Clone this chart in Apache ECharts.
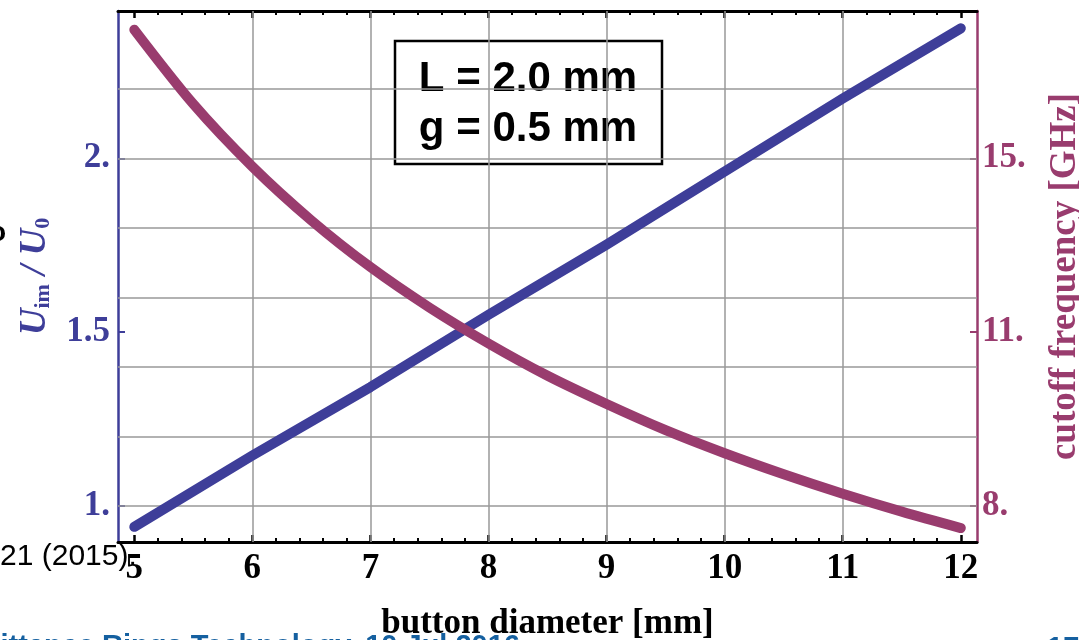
<!DOCTYPE html>
<html>
<head>
<meta charset="utf-8">
<script src="https://cdn.jsdelivr.net/npm/echarts@6/dist/echarts.min.js"></script>
<style>
  html, body { margin: 0; padding: 0; background: #fff; }
  #chart { width: 1079px; height: 640px; }
</style>
</head>
<body>
<div id="chart"></div>
<script>
// button diameter [mm] and the image-voltage ratio U_im / U_0 (left axis)
const diameter = [5, 6, 7, 8, 9, 10, 11, 12];
const uRatio = [0.94, 1.145, 1.342, 1.55, 1.752, 1.962, 2.172, 2.374];

// cutoff frequency [GHz] (right axis), read at half-millimetre steps
const diameterF = [5, 5.5, 6, 6.5, 7, 7.5, 8, 8.5, 9, 9.5, 10, 10.5, 11, 11.5, 12];
const cutoffGHz = [17.35, 15.9, 14.68, 13.63, 12.72, 11.93, 11.23, 10.6, 10.05, 9.54, 9.09, 8.68, 8.3, 7.95, 7.63];

// ticks and labels
const xTicks = [5, 6, 7, 8, 9, 10, 11, 12];
const xLabels = ['5', '6', '7', '8', '9', '10', '11', '12'];
const uTicks = [1, 1.5, 2];
const uLabels = ['1.', '1.5', '2.'];
const fTicks = [8.06, 11.45, 14.84];
const fLabels = ['8.', '11.', '15.'];
const gridX = [6, 7, 8, 9, 10, 11];
const gridY = [1.0, 1.2, 1.4, 1.6, 1.8, 2.0, 2.2];

// axis ranges (right axis is aligned to the left one)
const X_MIN = 4.862, X_MAX = 12.137;
const U_MIN = 0.8964, U_MAX = 2.424;
const F_MIN = 7.358, F_MAX = 17.715;

const BLUE = '#3e3e99';
const PURPLE = '#993c6e';
const SERIF = '"Liberation Serif", "DejaVu Serif", serif';
const SANS = '"Liberation Sans", Arial, sans-serif';

// minor ticks every 0.2 mm between the major ones
const xMinor = [];
for (let i = 0; i < xTicks.length - 1; i++) {
  for (let k = 1; k < 5; k++) xMinor.push(+(xTicks[i] + k * 0.2).toFixed(2));
}

const pick = (ticks, labels) => v => {
  const i = ticks.findIndex(t => Math.abs(t - v) < 1e-6);
  return i >= 0 ? labels[i] : '';
};

const baseX = (pos, extra) => Object.assign({
  type: 'value',
  position: pos,
  min: X_MIN,
  max: X_MAX,
  axisLine: {show: false, onZero: false},
  axisLabel: {show: false},
  splitLine: {show: false}
}, extra);

const chart = echarts.init(document.getElementById('chart'), null, {renderer: 'canvas'});

chart.setOption({
  animation: false,
  backgroundColor: '#fff',
  grid: {left: 118, right: 102, top: 11, bottom: 98, outerBoundsMode: 'none'},
  xAxis: [
    baseX('bottom', {
      axisLine: {show: true, onZero: false, lineStyle: {color: '#000', width: 3}},
      axisTick: {inside: true, length: 7, customValues: xTicks, lineStyle: {color: '#000', width: 2.5}},
      axisLabel: {
        show: true, customValues: xTicks, formatter: pick(xTicks, xLabels), margin: 9,
        color: '#000', fontFamily: SERIF, fontWeight: 'bold', fontSize: 35
      },
      name: 'button diameter [mm]',
      nameLocation: 'middle',
      nameGap: 64,
      nameTextStyle: {color: '#000', fontFamily: SERIF, fontWeight: 'bold', fontSize: 35}
    }),
    baseX('bottom', {
      axisTick: {inside: true, length: 4, customValues: xMinor, lineStyle: {color: '#000', width: 2}}
    }),
    baseX('top', {
      axisLine: {show: true, onZero: false, lineStyle: {color: '#000', width: 3}},
      axisTick: {inside: true, length: 7, customValues: xTicks, lineStyle: {color: '#000', width: 2.5}}
    }),
    baseX('top', {
      axisTick: {inside: true, length: 4, customValues: xMinor, lineStyle: {color: '#000', width: 2}}
    })
  ],
  yAxis: [
    {
      type: 'value',
      position: 'left',
      min: U_MIN,
      max: U_MAX,
      axisLine: {show: true, onZero: false, lineStyle: {color: BLUE, width: 2.5}},
      axisTick: {inside: true, length: 7, customValues: uTicks, lineStyle: {color: BLUE, width: 2}},
      axisLabel: {
        customValues: uTicks, formatter: pick(uTicks, uLabels), margin: 8,
        color: BLUE, fontFamily: SERIF, fontWeight: 'bold', fontSize: 35
      },
      splitLine: {show: false},
      name: '{u|U}{s|im}{n| / }{u|U}{s|0}',
      nameLocation: 'middle',
      nameRotate: 90,
      nameGap: 64,
      nameTextStyle: {
        color: BLUE,
        rich: {
          u: {fontFamily: SERIF, fontStyle: 'italic', fontWeight: 'bold', fontSize: 37, color: BLUE},
          s: {fontFamily: SERIF, fontWeight: 'bold', fontSize: 22, color: BLUE, verticalAlign: 'bottom', lineHeight: 12},
          n: {fontFamily: SERIF, fontStyle: 'italic', fontWeight: 'bold', fontSize: 37, color: BLUE}
        }
      }
    },
    {
      type: 'value',
      position: 'right',
      min: F_MIN,
      max: F_MAX,
      axisLine: {show: true, onZero: false, lineStyle: {color: PURPLE, width: 2.5}},
      axisTick: {inside: true, length: 7, customValues: fTicks, lineStyle: {color: PURPLE, width: 2}},
      axisLabel: {
        customValues: fTicks, formatter: pick(fTicks, fLabels), margin: 5,
        color: PURPLE, fontFamily: SERIF, fontWeight: 'bold', fontSize: 35
      },
      splitLine: {show: false},
      name: 'cutoff frequency [GHz]',
      nameLocation: 'middle',
      nameRotate: 90,
      nameGap: 70,
      nameTextStyle: {color: PURPLE, fontFamily: SERIF, fontWeight: 'bold', fontSize: 37}
    }
  ],
  series: [
    {
      name: 'U_im / U_0',
      type: 'line',
      xAxisIndex: 0,
      yAxisIndex: 0,
      z: 3,
      showSymbol: false,
      symbol: 'none',
      lineStyle: {color: BLUE, width: 10, cap: 'round', join: 'round'},
      data: diameter.map((d, i) => [d, uRatio[i]]),
      markLine: {
        silent: true,
        z: 1,
        symbol: ['none', 'none'],
        label: {show: false},
        lineStyle: {color: '#999', width: 1.5, type: 'solid'},
        data: gridX.map(v => ({xAxis: v})).concat(gridY.map(v => ({yAxis: v})))
      }
    },
    {
      name: 'cutoff frequency',
      type: 'line',
      xAxisIndex: 0,
      yAxisIndex: 1,
      z: 4,
      smooth: 0.3,
      showSymbol: false,
      symbol: 'none',
      lineStyle: {color: PURPLE, width: 10, cap: 'round', join: 'round'},
      data: diameterF.map((d, i) => [d, cutoffGHz[i]])
    }
  ],
  graphic: [
    {
      type: 'group',
      z: 100,
      children: [
        {
          type: 'rect',
          shape: {x: 395, y: 41, width: 267, height: 123},
          style: {fill: '#fff', stroke: '#000', lineWidth: 2.5}
        },
        {
          type: 'text',
          x: 528,
          y: 104,
          style: {
            text: 'L = 2.0 mm\ng = 0.5 mm',
            font: 'bold 42px ' + SANS,
            fill: '#000',
            align: 'center',
            verticalAlign: 'middle',
            lineHeight: 50
          }
        }
      ]
    },
    // slide text around the figure
    {
      type: 'text', x: 0, y: 557, z: 100,
      style: {text: '21 (2015).', font: '30px ' + SANS, fill: '#000', align: 'left', verticalAlign: 'middle'}
    },
    {
      type: 'text', x: 6, y: 233, z: 100,
      style: {text: 'o', font: 'bold 28px ' + SANS, fill: '#000', align: 'right', verticalAlign: 'middle'}
    },
    {
      type: 'text', x: 520, y: 632, z: 100,
      style: {text: 'Low Emittance Rings Technology, 10 Jul 2016', font: 'bold 29px ' + SANS, fill: '#1560a0', align: 'right', verticalAlign: 'top'}
    },
    {
      type: 'text', x: 1047, y: 634, z: 100,
      style: {text: '17', font: 'bold 29px ' + SANS, fill: '#1560a0', align: 'left', verticalAlign: 'top'}
    }
  ]
});
</script>
</body>
</html>
